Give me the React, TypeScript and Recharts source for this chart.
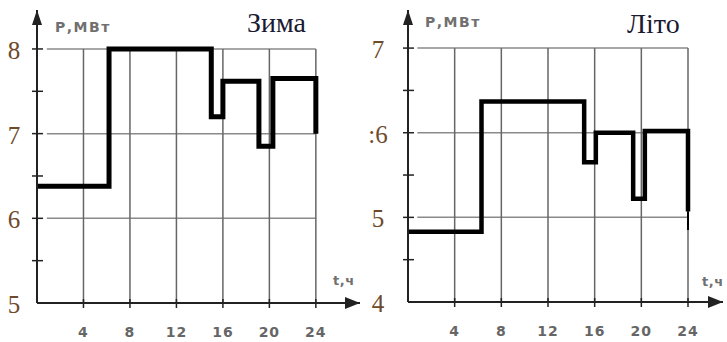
import React from 'react';
import { LineChart, Line, XAxis, YAxis, ReferenceLine, ReferenceDot } from 'recharts';

// hours on the x axis
const hourTicks = [4, 8, 12, 16, 20, 24];

// winter load curve (step points: hour, MW)
const winterHours = [0, 6.2, 15, 16, 19.1, 20.3, 24];
const winterLoad = [6.38, 8, 7.2, 7.62, 6.85, 7.65, 7.0];
const winterGrid = [6, 7, 8];
const winterTicks = [5, 5.5, 6, 6.5, 7, 7.5, 8];
const winterLabels = ['5', '', '6', '', '7', '', '8'];

// summer load curve
const summerHours = [0, 6.3, 15.1, 16.1, 19.3, 20.3, 24];
const summerLoad = [4.83, 6.37, 5.65, 6.0, 5.22, 6.02, 5.07];
const summerTailHours = [24, 24];
const summerTailLoad = [5.07, 4.85];
const summerGrid = [5, 6, 7];
const summerTicks = [4, 4.5, 5, 5.5, 6, 6.5, 7];
const summerLabels = ['4', '', '5', '', ':6', '', '7'];

const toRows = (hours: number[], load: number[]) => hours.map((t, i) => ({ t, p: load[i] }));

const AXIS = '#222';
const GRID = '#8a8a8a';

function YTick(props: any) {
  const { x, y, payload, ticks, labels, labelDx } = props;
  const i = ticks.indexOf(payload.value);
  const label = labels[i];
  return (
    <g>
      {i > 0 && <line x1={x - 5} x2={x + 6} y1={y} y2={y} stroke={AXIS} strokeWidth={1.5} />}
      {label && (
        <text x={x + labelDx} y={y + 10} textAnchor="middle" fontFamily="'Liberation Serif', serif"
          fontSize={25} fill="#6e4a2c">
          {label}
        </text>
      )}
    </g>
  );
}

function XTick(props: any) {
  const { x, y, payload } = props;
  return (
    <g>
      <line x1={x} x2={x} y1={y - 4} y2={y + 5} stroke={AXIS} strokeWidth={1.5} />
      <text x={x} y={y + 34} textAnchor="middle" fontFamily="'DejaVu Sans', sans-serif"
        fontSize={14} fontWeight="bold" fill="#666" letterSpacing={1}>
        {payload.value}
      </text>
    </g>
  );
}

const ArrowUp = (props: any) => {
  const { cx, cy } = props;
  return <path d={`M${cx},${cy} L${cx - 5},${cy + 15} L${cx + 5},${cy + 15} Z`} fill={AXIS} />;
};

const ArrowRight = (props: any) => {
  const { cx, cy } = props;
  return <path d={`M${cx},${cy} L${cx - 15},${cy - 6} L${cx - 15},${cy + 6} Z`} fill={AXIS} />;
};

interface PanelProps {
  left: number;
  width: number;
  axisWidth: number;
  marginRight: number;
  marginBottom: number;
  xMax: number;
  yMin: number;
  yMax: number;
  gridStart: number;
  grid: number[];
  ticks: number[];
  labels: string[];
  labelDx: number;
  rows: { t: number; p: number }[];
  tail?: { t: number; p: number }[];
  lineWidth: number;
}

function Panel(p: PanelProps) {
  const top = p.grid[p.grid.length - 1];
  return (
    <div style={{ position: 'absolute', left: p.left, top: 0 }}>
      <LineChart width={p.width} height={342} margin={{ top: 10, right: p.marginRight, bottom: p.marginBottom, left: 0 }}>
        <XAxis dataKey="t" type="number" domain={[0, p.xMax]} ticks={hourTicks} interval={0}
          allowDataOverflow height={30} tickSize={0} tickMargin={0}
          axisLine={{ stroke: AXIS, strokeWidth: 2 }} tick={<XTick />} />
        <YAxis type="number" domain={[p.yMin, p.yMax]} ticks={p.ticks} interval={0}
          allowDataOverflow width={p.axisWidth} tickSize={0} tickMargin={0}
          axisLine={{ stroke: AXIS, strokeWidth: 2 }}
          tick={(tp: any) => <YTick {...tp} ticks={p.ticks} labels={p.labels} labelDx={p.labelDx} />} />
        {p.grid.map((g) => (
          <ReferenceLine key={'h' + g} segment={[{ x: p.gridStart, y: g }, { x: 24, y: g }]}
            stroke={GRID} strokeWidth={1.5} ifOverflow="visible" />
        ))}
        {hourTicks.map((h) => (
          <ReferenceLine key={'v' + h} segment={[{ x: h, y: p.yMin }, { x: h, y: top }]}
            stroke="#666" strokeWidth={1.5} ifOverflow="visible" />
        ))}
        <ReferenceDot x={0} y={p.yMax} r={0} shape={<ArrowUp />} ifOverflow="visible" />
        <ReferenceDot x={p.xMax} y={p.yMin} r={0} shape={<ArrowRight />} ifOverflow="visible" />
        <Line data={p.rows} dataKey="p" type="stepAfter" stroke="#000" strokeWidth={p.lineWidth}
          strokeLinejoin="miter" dot={false} activeDot={false} isAnimationActive={false} />
        {p.tail && (
          <Line data={p.tail} dataKey="p" type="linear" stroke="#000" strokeWidth={2}
            dot={false} activeDot={false} isAnimationActive={false} />
        )}
      </LineChart>
    </div>
  );
}

export default function App() {
  const small = { fontFamily: "'DejaVu Sans', sans-serif", fontSize: 14, fontWeight: 'bold' as const, fill: '#707070', letterSpacing: 1.5 };
  const axisName = { ...small, fontSize: 13, letterSpacing: 0.5 };
  const title = { fontFamily: "'Liberation Serif', serif", fontSize: 28, fill: '#1a1a33' };
  return (
    <div style={{ position: 'absolute', left: 0, top: 0, width: 727, height: 342, background: '#fff' }}>
      <Panel left={0} width={362} axisWidth={37} marginRight={2} marginBottom={9} xMax={27.8} yMin={5} yMax={8.46}
        gridStart={0.85} grid={winterGrid} ticks={winterTicks} labels={winterLabels} labelDx={-23}
        rows={toRows(winterHours, winterLoad)} lineWidth={5} />
      <Panel left={362} width={365} axisWidth={46} marginRight={4} marginBottom={10} xMax={27} yMin={4} yMax={7.45}
        gridStart={0.8} grid={summerGrid} ticks={summerTicks} labels={summerLabels} labelDx={-30}
        rows={toRows(summerHours, summerLoad)} tail={toRows(summerTailHours, summerTailLoad)} lineWidth={4.5} />
      <svg width={727} height={342} style={{ position: 'absolute', left: 0, top: 0, pointerEvents: 'none' }}>
        <text x={55} y={32} {...small}>Р,МВт</text>
        <text x={425} y={27} {...small}>Р,МВт</text>
        <text x={247} y={32} {...title}>Зима</text>
        <text x={627} y={33} {...title}>Літо</text>
        <text x={333} y={285} {...axisName}>t,ч</text>
        <text x={702} y={286} {...axisName}>t,ч</text>
      </svg>
    </div>
  );
}
